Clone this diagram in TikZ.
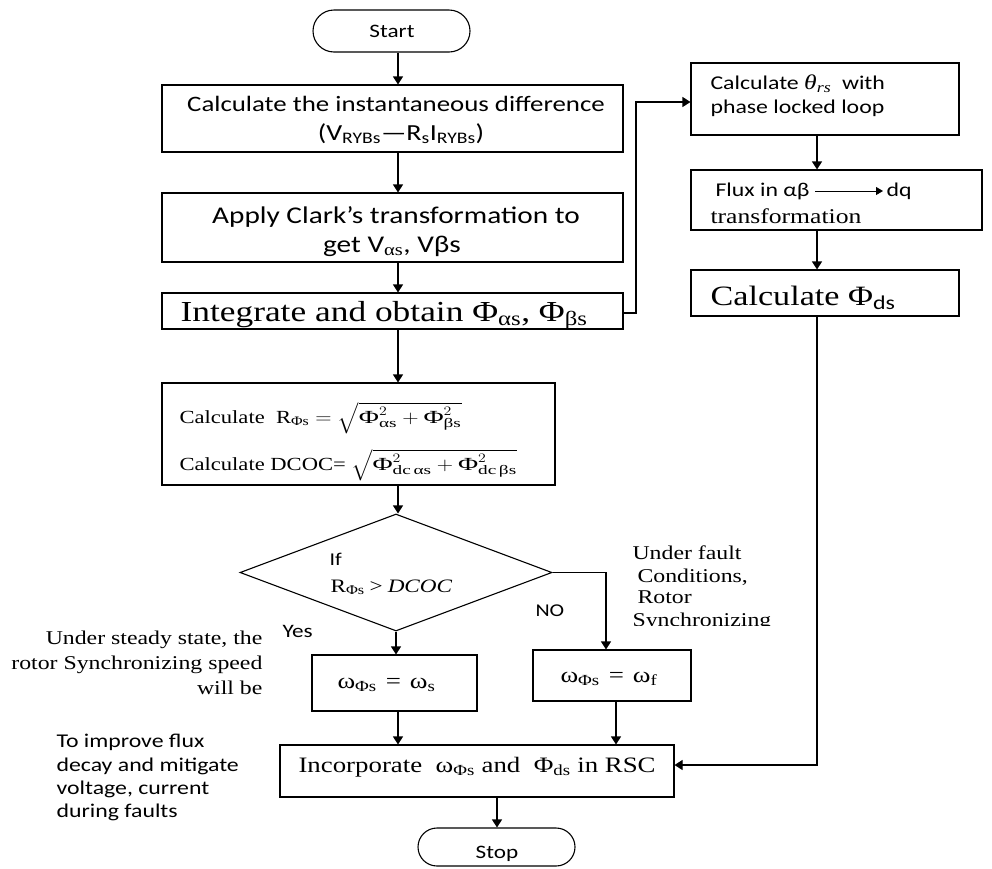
\RequirePackage{fix-cm}
\documentclass[tikz,border=0pt]{standalone}
\usepackage{amsmath}
\usepackage{graphicx}
\usepackage{fontspec}
\setmainfont{Liberation Serif}[FakeStretch=1.22]
\newfontfamily\cb{Carlito}[FakeStretch=1.22]
\usetikzlibrary{arrows.meta,shapes.geometric,shapes.misc}
\newcommand\fs[1]{\fontsize{#1}{#1}\selectfont}
\newcommand\lo[1]{\textsubscript{#1}}
\newcommand\wm[1]{\scalebox{1.22}[1]{$#1$}}
\begin{document}
\begin{tikzpicture}[x=1pt,y=-1pt,line width=1.1pt,
  box/.style={draw,line width=1.1pt,inner sep=0pt},
  term/.style={draw,line width=1.1pt,rounded rectangle,inner sep=0pt},
  arr/.style={line width=1.1pt,-{Triangle[length=8pt,width=10pt]}},
  tw/.style={inner sep=0pt,anchor=base west},
  tc/.style={inner sep=0pt,anchor=base},
  te/.style={inner sep=0pt,anchor=base east}]
\useasboundingbox (0,0) rectangle (992,868);
% guide coordinates
\coordinate (ax) at (398,0);
\coordinate (nx) at (606,0);
\coordinate (nx2) at (616,0);
\coordinate (sx) at (497,0);
\coordinate (rx) at (817,0);
\coordinate (jy) at (0,313);
\coordinate (jx) at (636,313);
\coordinate (ky) at (0,102);
\coordinate (iy) at (0,765);
% main column
\node[term,minimum width=157pt,minimum height=42pt] (start) at (391.5,31) {};
\node[tc] (tstart) at (392,37) {\cb\fs{19}Start};
\node[box,minimum width=461pt,minimum height=67pt] (b1) at (392.5,118.5) {};
\node[tc] (t1a) at (396,111) {\cb\fs{22}Calculate the instantaneous difference};
\node[tc] (t1b) at (401,140) {\cb\fs{23}(V\lo{RYBs}—R\lo{s}I\lo{RYBs})};
\node[box,minimum width=461pt,minimum height=69pt] (b2) at (392.5,227.5) {};
\node[tc] (t2a) at (396,223) {\cb\fs{24}Apply Clark’s transformation to};
\node[tc] (t2b) at (392,252) {\cb\fs{24}get V{\rmfamily\lo{αs}}, Vβs};
\node[box,minimum width=461pt,minimum height=36pt] (b3) at (392.5,311) {};
\node[tw] (t3) at (180,321) {\fs{29}Integrate and obtain Φ\lo{αs}, Φ\lo{βs}};
\node[box,minimum width=393pt,minimum height=102pt] (b4) at (358.5,434) {};
\node[tw] (t4a) at (179,423) {\fs{18.5}Calculate\ \ R\lo{Φs}\hspace{6pt}\wm{=\sqrt{\text{Φ}^2_{\text{αs}}+\text{Φ}^2_{\text{βs}}}}};
\node[tw] (t4b) at (179,470) {\fs{18.5}Calculate DCOC= \wm{\sqrt{\text{Φ}^2_{\text{dc\,αs}}+\text{Φ}^2_{\text{dc\,βs}}}}};
\node[draw,line width=1.1pt,diamond,inner sep=0pt,minimum width=312pt,minimum height=117pt] (dia) at (396,572.5) {};
\node[tw] (tif) at (329,565) {\cb\fs{18}If};
\node[tw] (tcond) at (330,592) {\fs{19}R\lo{Φs}\hspace{5pt}>\hspace{5pt}\textit{DCOC}};
\node[tw] (tyes) at (282,637) {\cb\fs{19}Yes};
\node[tw] (tno) at (535,616) {\cb\fs{18}NO};
\node[box,minimum width=165pt,minimum height=56pt] (yb) at (394.5,683) {};
\node[tw] (tyb) at (337,688) {\fs{22}ω\lo{Φs}\hspace{9pt}=\hspace{9pt}ω\lo{s}};
\node[box,minimum width=158pt,minimum height=51pt] (nb) at (612,675.5) {};
\node[tw] (tnb) at (560,682) {\fs{22}ω\lo{Φs}\hspace{9pt}=\hspace{9pt}ω\lo{f}};
\node[box,minimum width=394pt,minimum height=52pt] (inc) at (477,771) {};
\node[tw] (tinc) at (298,772) {\fs{22}Incorporate\ \ ω\lo{Φs} and\ \ Φ\lo{ds} in RSC};
\node[term,minimum width=157pt,minimum height=38pt] (stop) at (496.5,847) {};
\node[tc] (tstop) at (497,858) {\cb\fs{19}Stop};
% right column
\node[box,minimum width=268pt,minimum height=72pt] (r1) at (825,99) {};
\node[tw] (tr1a) at (710,89) {\cb\fs{19.5}Calculate {\rmfamily\fs{21}\textit{θ}\lo{\textit{rs}}}\ \ with};
\node[tw] (tr1b) at (710,113) {\cb\fs{19.5}phase locked loop};
\node[box,minimum width=291pt,minimum height=60pt] (r2) at (836.5,200) {};
\node[tw] (fa) at (715,196) {\cb\fs{19.5}Flux in αβ};
\node[tw] (fdq) at (886,196) {\cb\fs{19.5}dq};
\node[tw] (tr2b) at (710,223) {\fs{21}transformation};
\node[box,minimum width=268pt,minimum height=46pt] (r3) at (825,293) {};
\node[tw] (tr3) at (710,305) {\fs{28}Calculate Φ{\cb\lo{ds}}};
% side notes
\node[te] (sa) at (263,644) {\fs{19.5}Under steady state, the};
\node[te] (sb) at (263,669) {\fs{19.5}rotor Synchronizing speed};
\node[te] (sc) at (263,694) {\fs{19.5}will be};
\node[tw] (ia) at (56,747) {\cb\fs{19.5}To improve flux};
\node[tw] (ib) at (56,771) {\cb\fs{19.5}decay and mitigate};
\node[tw] (ic) at (56,794) {\cb\fs{19.5}voltage, current};
\node[tw] (id) at (56,817) {\cb\fs{19.5}during faults};
\begin{scope}
\clip (620,530) rectangle (800,625);
\node[tw] (fa1) at (632,559) {\fs{19.5}Under fault};
\node[tw] (fa2) at (637,582) {\fs{19.5}Conditions,};
\node[tw] (fa3) at (637,603) {\fs{19.5}Rotor};
\node[tw] (fa4) at (632,626) {\fs{19.5}Synchronizing};
\end{scope}
% connectors
\draw[arr] (start.south -| ax) -- (b1.north -| ax);
\draw[arr] (b1.south -| ax) -- (b2.north -| ax);
\draw[arr] (b2.south -| ax) -- (b3.north -| ax);
\draw[arr] (b3.south -| ax) -- (b4.north -| ax);
\draw[arr] (b4.south -| ax) -- (dia.north -| ax);
\draw[arr] (dia.south) -- (yb.north -| dia.south);
\draw[arr] (dia.east) -| (nb.north -| nx);
\draw[arr] (yb.south -| ax) -- (inc.north -| ax);
\draw[arr] (nb.south -| nx2) -- (inc.north -| nx2);
\draw[arr] (inc.south -| sx) -- (stop.north -| sx);
\draw[arr] (b3.east |- jy) -- (jx) |- (r1.west |- ky);
\draw[arr] (r1.south -| rx) -- (r2.north -| rx);
\draw[arr] (r2.south -| rx) -- (r3.north -| rx);
\draw[arr] (r3.south -| rx) |- (inc.east |- iy);
\draw[line width=0.9pt,-{Triangle[length=7pt,width=8pt]}] ([xshift=5pt,yshift=5pt]fa.base east) -- ([xshift=-3pt,yshift=5pt]fdq.base west);
\end{tikzpicture}
\end{document}
